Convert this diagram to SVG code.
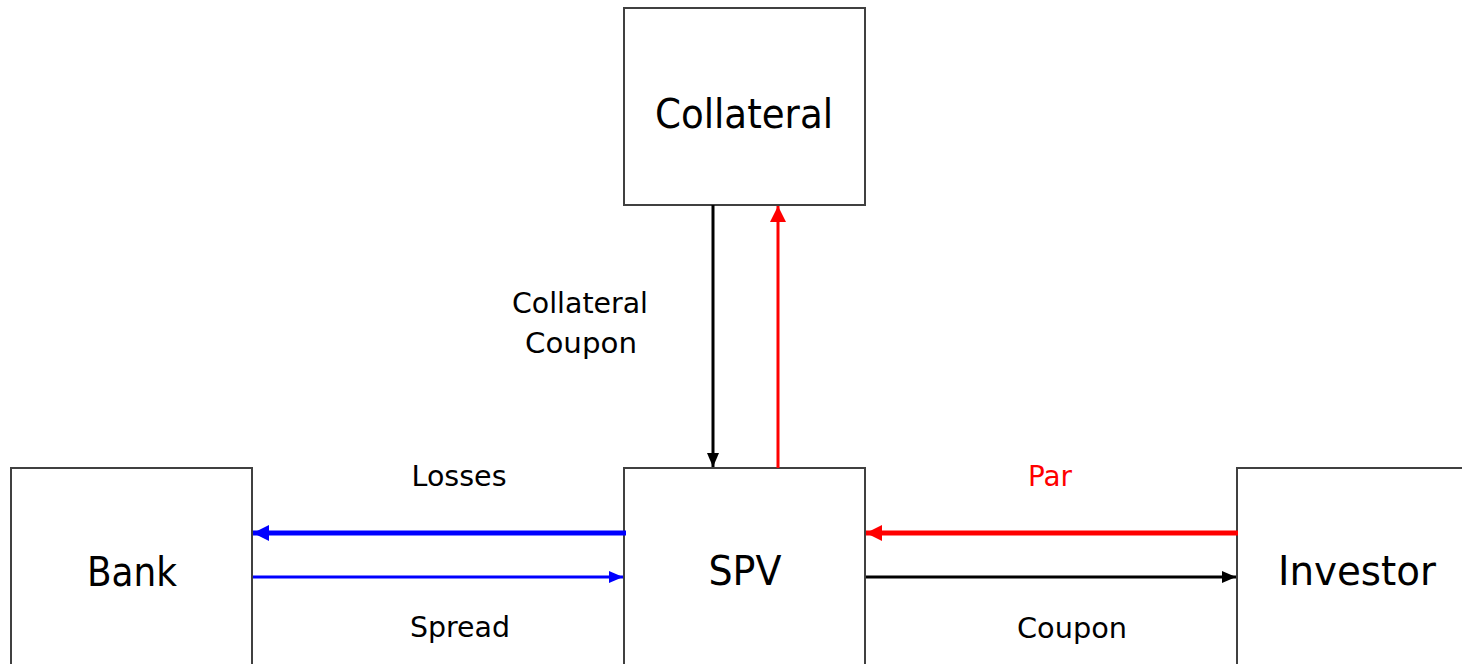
<svg xmlns="http://www.w3.org/2000/svg" width="1462" height="664" viewBox="0 0 1462 664">
<style>
.box{fill:#fff;stroke:#404040;stroke-width:2}
.big{font-family:"DejaVu Sans","Liberation Sans",sans-serif;font-size:41px;fill:#000;text-anchor:middle}
.lbl{font-family:"DejaVu Sans","Liberation Sans",sans-serif;font-size:29px;fill:#000;text-anchor:middle}
.c{fill:none}
</style>
<defs>
<marker id="ak" markerUnits="userSpaceOnUse" markerWidth="16" markerHeight="16" refX="14" refY="6" orient="auto"><path d="M0,0 L14,6 L0,12 Z" fill="#000"/></marker>
<marker id="ab" markerUnits="userSpaceOnUse" markerWidth="16" markerHeight="16" refX="14" refY="6" orient="auto"><path d="M0,0 L14,6 L0,12 Z" fill="#0000ff"/></marker>
<marker id="abL" markerUnits="userSpaceOnUse" markerWidth="18" markerHeight="18" refX="16" refY="8" orient="auto"><path d="M0,0 L16,8 L0,16 Z" fill="#0000ff"/></marker>
<marker id="ar" markerUnits="userSpaceOnUse" markerWidth="18" markerHeight="18" refX="16" refY="8" orient="auto"><path d="M0,0 L16,8 L0,16 Z" fill="#ff0000"/></marker>
</defs>
<rect width="1462" height="664" fill="#fff"/>
<g id="collateral"><rect class="box" x="624" y="8" width="241" height="197"/><text class="big" x="744" y="128" textLength="178" lengthAdjust="spacingAndGlyphs">Collateral</text></g>
<g id="bank"><rect class="box" x="11" y="468" width="241" height="197"/><text class="big" x="132" y="586" textLength="90" lengthAdjust="spacingAndGlyphs">Bank</text></g>
<g id="spv"><rect class="box" x="624" y="468" width="241" height="197"/><text class="big" x="745" y="585" textLength="73" lengthAdjust="spacingAndGlyphs">SPV</text></g>
<g id="investor"><rect class="box" x="1237" y="468" width="241" height="197"/><text class="big" x="1357" y="585" textLength="158" lengthAdjust="spacingAndGlyphs">Investor</text></g>
<g id="connectors">
<line class="c" x1="713" y1="205" x2="713" y2="467" stroke="#000" stroke-width="3" marker-end="url(#ak)"/>
<line class="c" x1="778" y1="468" x2="778" y2="206" stroke="#ff0000" stroke-width="3" marker-end="url(#ar)"/>
<line class="c" x1="626" y1="533" x2="253" y2="533" stroke="#0000ff" stroke-width="5" marker-end="url(#abL)"/>
<line class="c" x1="253" y1="577" x2="623" y2="577" stroke="#0000ff" stroke-width="3" marker-end="url(#ab)"/>
<line class="c" x1="1238" y1="533" x2="866" y2="533" stroke="#ff0000" stroke-width="5" marker-end="url(#ar)"/>
<line class="c" x1="866" y1="577" x2="1236" y2="577" stroke="#000" stroke-width="3" marker-end="url(#ak)"/>
<text class="lbl" x="580" y="313" textLength="136" lengthAdjust="spacingAndGlyphs">Collateral</text>
<text class="lbl" x="581" y="353" textLength="112" lengthAdjust="spacingAndGlyphs">Coupon</text>
<text class="lbl" x="459" y="486" textLength="95" lengthAdjust="spacingAndGlyphs">Losses</text>
<text class="lbl" x="460" y="637" textLength="100" lengthAdjust="spacingAndGlyphs">Spread</text>
<text class="lbl" x="1050" y="486" textLength="44" lengthAdjust="spacingAndGlyphs" fill="#ff0000" style="fill:#ff0000">Par</text>
<text class="lbl" x="1072" y="638" textLength="110" lengthAdjust="spacingAndGlyphs">Coupon</text>
</g>
</svg>
